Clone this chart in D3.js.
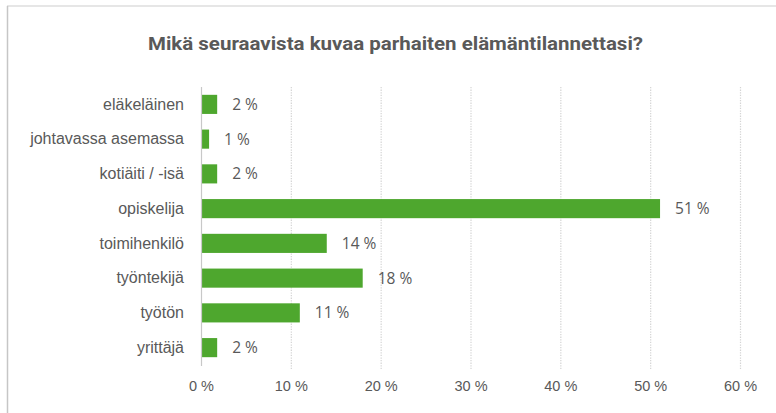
<!DOCTYPE html>
<html>
<head>
<meta charset="utf-8">
<script src="https://cdn.jsdelivr.net/npm/d3@7"></script>
<style>
	body { margin: 0; background: #fff; }
	svg { display: block; font-family: "Open Sans", Roboto, "Liberation Sans", sans-serif; }
</style>
</head>
<body>
<div id="chart"></div>
<script>
// Chart data
var categories = ["eläkeläinen", "johtavassa asemassa", "kotiäiti / -isä", "opiskelija", "toimihenkilö", "työntekijä", "työtön", "yrittäjä"];
var values     = [1.8, 0.9, 1.8, 51.1, 14, 18, 11, 1.8];
var tickValues = [0, 10, 20, 30, 40, 50, 60];
var title      = "Mikä seuraavista kuvaa parhaiten elämäntilannettasi?";

var width = 776, height = 413;
var margin = { top: 87, left: 201, right: 36, bottom: 48 };

var svg = d3.select("#chart").append("svg")
	.attr("width", width)
	.attr("height", height);

// chart frame (clipped at right and bottom)
svg.append("rect").attr("x", 7).attr("y", 5).attr("width", width - 7).attr("height", 2).attr("fill", "#e6e6e6");
svg.append("line")
	.attr("x1", 7.5).attr("x2", 7.5).attr("y1", 6).attr("y2", height)
	.attr("stroke", "#c6c6c6").attr("stroke-width", 1.5);

var x = d3.scaleLinear().domain([0, 60]).range([margin.left, 740]);
var y = d3.scaleBand().domain(categories).range([margin.top, 365]).paddingInner(0.45).paddingOuter(0.225);

// title
svg.append("text")
	.attr("x", 148).attr("y", 50)
	.attr("font-family", "Roboto, sans-serif")
	.attr("font-size", 19)
	.attr("font-weight", "bold")
	.attr("fill", "#595959")
	.attr("textLength", 495)
	.attr("lengthAdjust", "spacingAndGlyphs")
	.text(title);

// dotted gridlines
svg.append("g").selectAll("line")
	.data(tickValues.slice(1))
	.join("line")
	.attr("x1", function (d) { return x(d) + 0.5; })
	.attr("x2", function (d) { return x(d) + 0.5; })
	.attr("y1", margin.top).attr("y2", 369)
	.attr("stroke", "#d4d4d4")
	.attr("stroke-width", 1.2)
	.attr("stroke-dasharray", "1.3 1.3");

// bottom axis (labels only)
var xAxis = d3.axisBottom(x)
	.tickValues(tickValues)
	.tickSize(0)
	.tickPadding(0)
	.tickFormat(function (d) { return d + " %"; });

svg.append("g")
	.attr("transform", "translate(0,381)")
	.call(xAxis)
	.call(function (g) { g.select(".domain").remove(); })
	.selectAll("text")
	.attr("font-size", 14.5)
	.attr("fill", "#595959")
	.attr("font-family", "inherit");

// bars
svg.append("g").selectAll("rect")
	.data(values)
	.join("rect")
	.attr("x", x(0) + 1)
	.attr("y", function (d, i) { return y(categories[i]); })
	.attr("width", function (d) { return x(d) - x(0) - 1; })
	.attr("height", y.bandwidth())
	.attr("fill", "#4ea72e");

// zero axis line
svg.append("line")
	.attr("x1", x(0) + 0.5).attr("x2", x(0) + 0.5)
	.attr("y1", margin.top).attr("y2", 366)
	.attr("stroke", "#c8c8c8").attr("stroke-width", 1.2);

// category labels
var yAxis = d3.axisLeft(y).tickSize(0).tickPadding(17);
svg.append("g")
	.attr("transform", "translate(" + x(0) + ",0)")
	.call(yAxis)
	.call(function (g) { g.select(".domain").remove(); })
	.selectAll("text")
	.attr("font-size", 16)
	.attr("fill", "#595959")
	.attr("font-family", "inherit");

// data labels
svg.append("g").selectAll("text")
	.data(values)
	.join("text")
	.attr("x", function (d) { return x(d) + 15; })
	.attr("y", function (d, i) { return y(categories[i]) + y.bandwidth() / 2; })
	.attr("dy", "0.35em")
	.attr("font-size", 15.5)
	.attr("fill", "#595959")
	.text(function (d) { return d3.format(".0f")(d) + " %"; });
</script>
</body>
</html>
